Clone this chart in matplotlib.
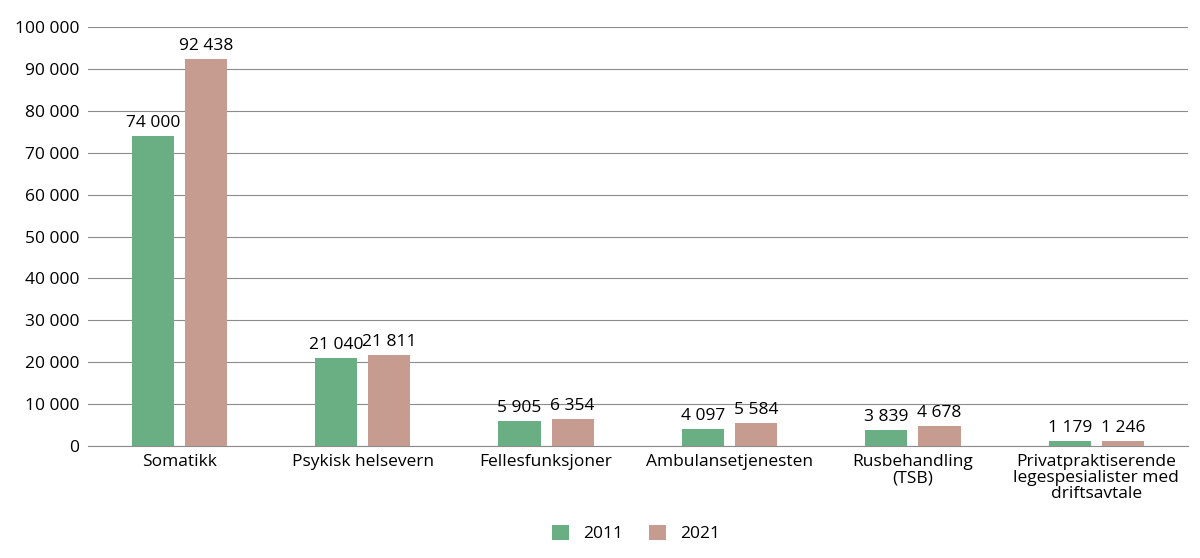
import matplotlib
matplotlib.use("Agg")
import matplotlib.pyplot as plt
import numpy as np

categories = ["Somatikk", "Psykisk helsevern", "Fellesfunksjoner", "Ambulansetjenesten",
              "Rusbehandling\n(TSB)", "Privatpraktiserende\nlegespesialister med\ndriftsavtale"]
v2011 = [74000, 21040, 5905, 4097, 3839, 1179]
v2021 = [92438, 21811, 6354, 5584, 4678, 1246]
yticks = list(range(0, 100001, 10000))

plt.rcParams["font.family"] = "Open Sans"
fig = plt.figure(figsize=(12, 5.58), dpi=100)
ax = fig.add_axes([0.073, 0.2007, 0.917, 0.7509])

def fmt(v):
    return f"{v:,}".replace(",", " ")

x = np.arange(len(categories))
w = 0.23
b1 = ax.bar(x - 0.145, v2011, w, color="#6aae84", label="2011", zorder=3)
b2 = ax.bar(x + 0.145, v2021, w, color="#c59c8f", label="2021", zorder=3)
for bars, vals in ((b1, v2011), (b2, v2021)):
    for r, v in zip(bars, vals):
        ax.text(r.get_x() + r.get_width() / 2, v + 1200, fmt(v), ha="center", va="bottom", fontsize=12.5)

ax.set_xlim(-0.5, len(categories) - 0.5)
ax.set_ylim(0, 100000)
ax.set_yticks(yticks)
ax.set_yticklabels([fmt(t) for t in yticks], fontsize=12.5)
ax.set_xticks(x)
ax.set_xticklabels(categories, fontsize=12.5, linespacing=1.0)
ax.tick_params(length=0, pad=6)
ax.grid(axis="y", color="#8c8c8c", linewidth=0.8, zorder=0)
for s in ["top", "right", "left"]:
    ax.spines[s].set_visible(False)
ax.spines["bottom"].set_color("#8c8c8c")
fig.legend(loc="lower center", bbox_to_anchor=(0.53, 0.0), ncol=2, frameon=False,
           fontsize=12.5, handlelength=1.0, handleheight=1.0, columnspacing=1.5)
fig.savefig("out.png", dpi=100)
